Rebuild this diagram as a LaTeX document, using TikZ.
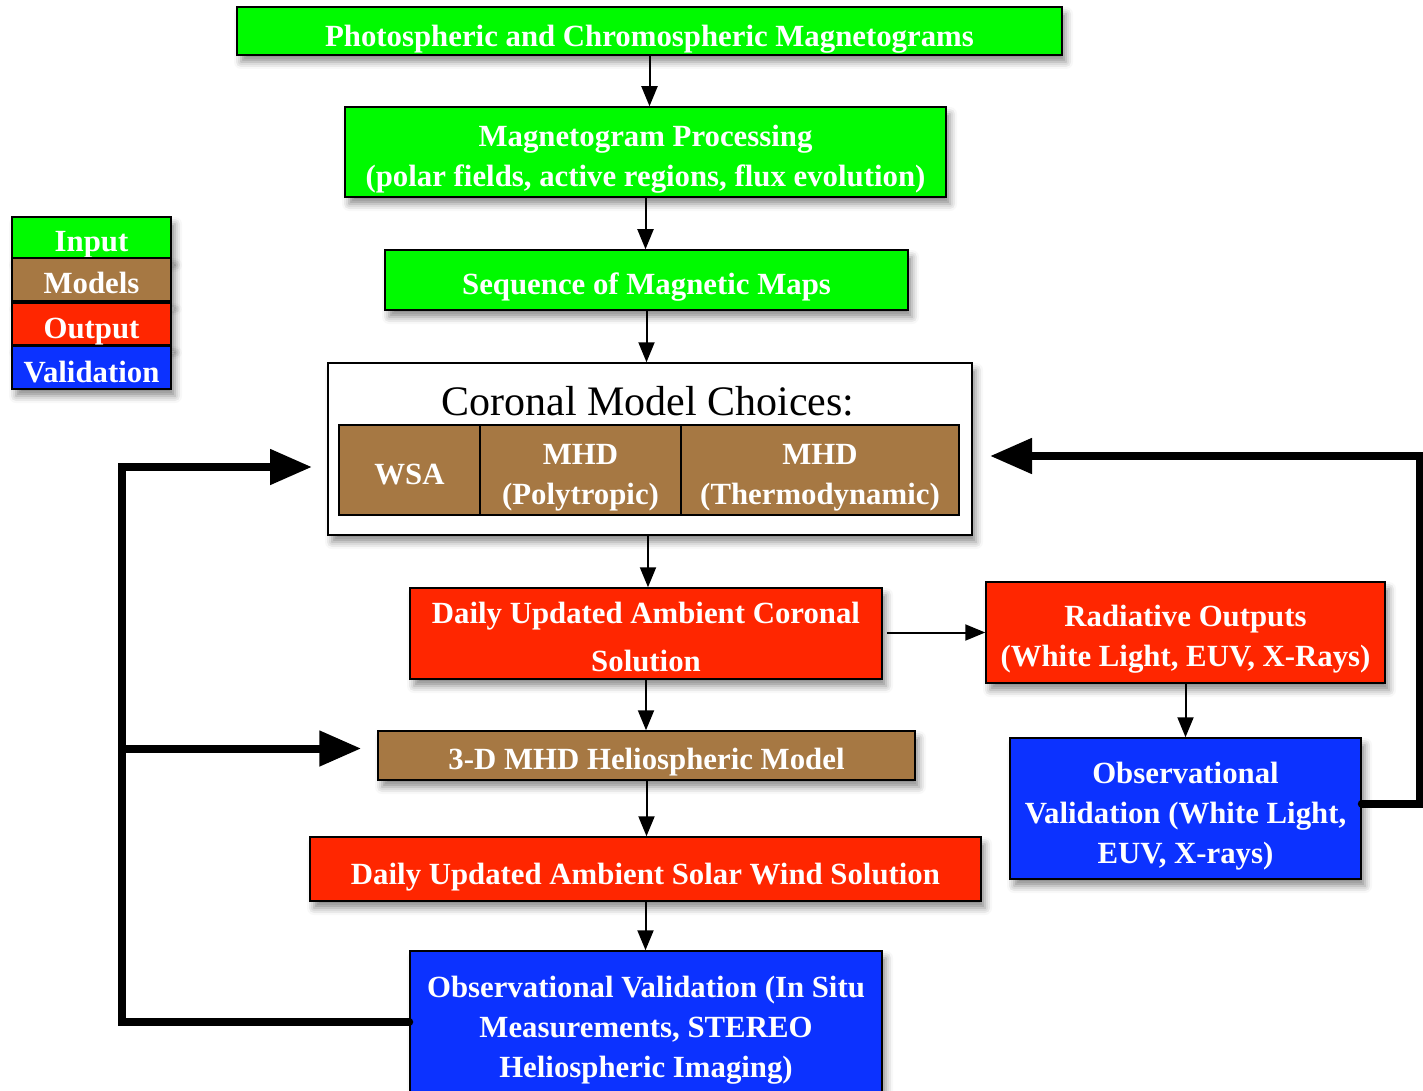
\documentclass[tikz,border=0pt]{standalone}
\usepackage{fontspec}
\setmainfont{Liberation Serif}
\usetikzlibrary{arrows.meta,shadows.blur,positioning}
\definecolor{ingreen}{RGB}{0,250,0}
\definecolor{modbrown}{RGB}{166,120,67}
\definecolor{outred}{RGB}{255,38,0}
\definecolor{valblue}{RGB}{12,50,255}
\newcommand{\boxlines}[2][12.5pt]{\raisebox{-#1}[0pt][0pt]{\begin{tabular}{@{}c@{}}#2\end{tabular}}}
\begin{document}
\begin{tikzpicture}[x=1pt,y=-1pt,
    box/.style={draw=black, line width=1.5pt, inner sep=0pt,
        text=white, font=\fontsize{30.8}{40}\selectfont\bfseries,
        blur shadow={shadow xshift=4pt, shadow yshift=-7pt, shadow blur radius=7pt, shadow opacity=45}},
    inbox/.style={box, fill=ingreen},
    modbox/.style={box, fill=modbrown},
    outbox/.style={box, fill=outred},
    valbox/.style={box, fill=valblue},
    cell/.style={draw=black, line width=1.5pt, fill=modbrown, inner sep=0pt,
        text=white, font=\fontsize{30.8}{40}\selectfont\bfseries,
        minimum height=90},
    flow/.style={line width=2pt, -{Triangle[length=20pt,width=16pt]}},
    fbline/.style={line width=8pt, line cap=round, -{Triangle[length=42pt,width=34pt]}}]
    \useasboundingbox (0,0) rectangle (1423,1091);

    \node[inbox, minimum width=825, minimum height=48] (photo) at (649.5,31) {\boxlines[13.5pt]{Photospheric and Chromospheric Magnetograms}};
    \node[inbox, minimum width=601, minimum height=90] (proc) at (645.5,152) {\boxlines{Magnetogram Processing\\(polar fields, active regions, flux evolution)}};
    \node[inbox, minimum width=523, minimum height=60] (seq) at (646.5,280) {\boxlines{Sequence of Magnetic Maps}};

    \node[box, fill=white, minimum width=644, minimum height=172] (choices) at (650,449) {};
    \node[font=\fontsize{42}{48}\selectfont, inner sep=0pt] (title) at (648,401) {Coronal Model Choices:};
    \node[cell, minimum width=141] (wsa) at (409.5,470) {\boxlines{WSA}};
    \node[cell, minimum width=201] (poly) at (580.5,470) {\boxlines{MHD\\(Polytropic)}};
    \node[cell, minimum width=278] (thermo) at (820,470) {\boxlines{MHD\\(Thermodynamic)}};

    \node[outbox, minimum width=472, minimum height=91, font=\fontsize{30.8}{48}\selectfont\bfseries] (coronal) at (646,633.5) {\boxlines[10.5pt]{Daily Updated Ambient Coronal\\Solution}};
    \node[outbox, minimum width=399, minimum height=101] (radiative) at (1185.5,632.5) {\boxlines{Radiative Outputs\\(White Light, EUV, X-Rays)}};
    \node[modbox, minimum width=537, minimum height=49] (helio) at (646.5,755.5) {\boxlines{3-D MHD Heliospheric Model}};
    \node[valbox, minimum width=351, minimum height=141] (obswl) at (1185.5,808.5) {\boxlines[13.5pt]{Observational\\Validation (White Light,\\EUV, X-rays)}};
    \node[outbox, minimum width=671, minimum height=64] (wind) at (645.5,869) {\boxlines[13.5pt]{Daily Updated Ambient Solar Wind Solution}};
    \node[valbox, minimum width=472, minimum height=142] (obsin) at (646,1022) {\boxlines[13.5pt]{Observational Validation (In Situ\\Measurements, STEREO\\Heliospheric Imaging)}};

    \node[inbox, minimum width=159, minimum height=41] (leginput) at (91.5,237.5) {\boxlines{Input}};
    \node[modbox, minimum width=159, minimum height=43] (legmodels) at (91.5,279.5) {\boxlines{Models}};
    \node[outbox, minimum width=159, minimum height=42] (legoutput) at (91.5,324) {\boxlines{Output}};
    \node[valbox, minimum width=159, minimum height=43] (legvalid) at (91.5,367.5) {\boxlines[13.5pt]{Validation}};

    \draw[flow] (photo.south) -- (photo.south |- proc.north);
    \draw[flow] (proc.south) -- (proc.south |- seq.north);
    \draw[flow] (seq.south) -- (seq.south |- choices.north);
    \draw[flow] (choices.south) ++(-2,0) -- ([xshift=-2]choices.south |- coronal.north);
    \draw[flow, shorten <=4pt] (radiative.west -| coronal.east) -- (radiative.west);
    \draw[flow] (coronal.south) -- (coronal.south |- helio.north);
    \draw[flow] (radiative.south) -- (radiative.south |- obswl.north);
    \draw[flow] (helio.south) -- (helio.south |- wind.north);
    \draw[flow] (wind.south) -- (wind.south |- obsin.north);

    \coordinate (lbus) at (122,467);
    \coordinate (rbus) at (1420,456);
    \draw[fbline] (obsin.west) -| (lbus) -- ++(190,0);
    \draw[fbline, line cap=butt] ([yshift=7]lbus |- helio.west) -- ([xshift=-16,yshift=7]helio.west);
    \draw[fbline] ([yshift=5]obswl.east) -| (rbus) -- ++(-430,0);
\end{tikzpicture}
\end{document}
